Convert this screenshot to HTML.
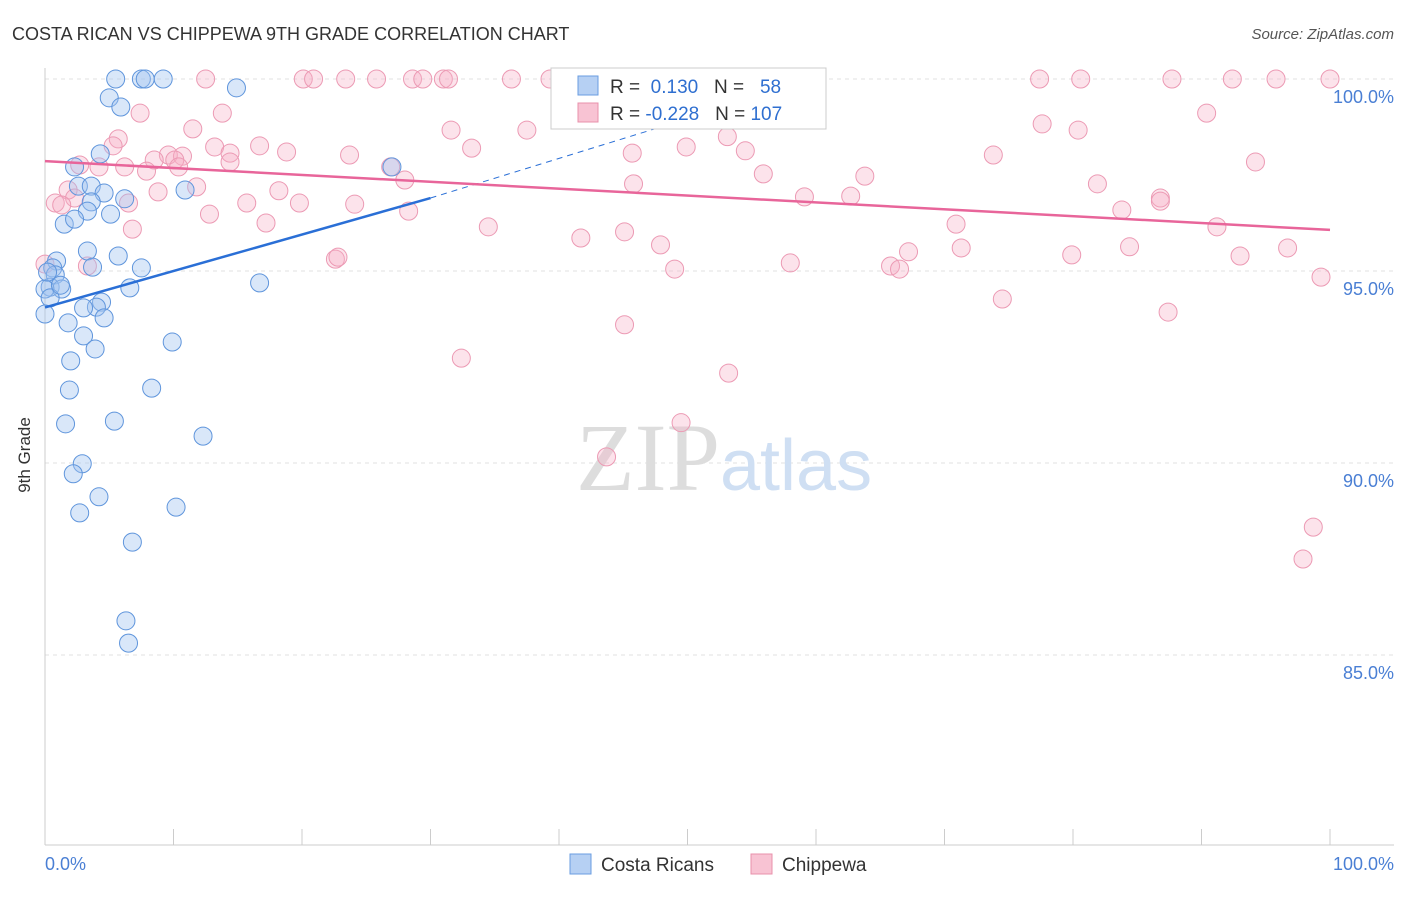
<!DOCTYPE html>
<html><head><meta charset="utf-8"><style>
body{margin:0;background:#fff;font-family:"Liberation Sans",sans-serif}
</style></head><body>
<svg width="1406" height="892" xmlns="http://www.w3.org/2000/svg">
<text x="12" y="40" font-size="18" fill="#333">COSTA RICAN VS CHIPPEWA 9TH GRADE CORRELATION CHART</text>
<text x="1394" y="39" font-size="15" fill="#555" font-style="italic" text-anchor="end">Source: ZipAtlas.com</text>
<g id="grid"></g>
<text x="720" y="490" font-size="96" fill="#ddd" text-anchor="end" font-family="Liberation Serif">ZIP</text>
<text x="720" y="490" font-size="72" fill="#cfdff3">atlas</text>
<g id="pts"></g>
<g id="trend"></g>
<text x="30" y="455" font-size="17" fill="#333" transform="rotate(-90 30 455)" text-anchor="middle">9th Grade</text>
<text x="45" y="870" font-size="18" fill="#4a7fd4">0.0%</text>
<text x="1394" y="870" font-size="18" fill="#4a7fd4" text-anchor="end">100.0%</text>
<g>
<rect x="551" y="68" width="275" height="61" fill="#fff" stroke="#ccc"/>
<rect x="578" y="76" width="20" height="19" fill="#b6d0f3" stroke="#6a9de0"/>
<rect x="578" y="103" width="20" height="19" fill="#f8c3d3" stroke="#e890ab"/>
<text x="610" y="93" font-size="19" fill="#333">R = <tspan fill="#2f6fd0">&#160;0.130</tspan>&#160;&#160;&#160;N = <tspan fill="#2f6fd0">&#160;&#160;58</tspan></text>
<text x="610" y="120" font-size="19" fill="#333">R = <tspan fill="#2f6fd0">-0.228</tspan>&#160;&#160;&#160;N = <tspan fill="#2f6fd0">107</tspan></text>
</g>
<g>
<rect x="570" y="854" width="21" height="20" fill="#b6d0f3" stroke="#6a9de0"/>
<text x="601" y="871" font-size="19" fill="#333">Costa Ricans</text>
<rect x="751" y="854" width="21" height="20" fill="#f8c3d3" stroke="#e890ab"/>
<text x="782" y="871" font-size="19" fill="#333">Chippewa</text>
</g>
</svg>
<script>
const yTicks=[100,95,90,85];
const blueX=[5.5,7.5,7.8,9.2,14.9,5,5.9,4.3,2.3,2.6,3.6,4.6,6.2,3.6,3.3,5.1,1.5,2.3,3.3,5.7,0.9,3.7,7.5,0.6,0.8,16.7,0.4,1.3,0,6.6,0.4,0,4.4,4,3,4.6,1.8,3,9.9,3.9,2,1.9,8.3,1.6,5.4,12.3,2.9,2.2,4.2,10.2,2.7,6.8,6.3,6.5,10.9,27,0.2,1.2];
const blueY=[100,100,100,100,99.77,99.51,99.27,98.05,97.71,97.21,97.21,97.03,96.88,96.8,96.56,96.48,96.22,96.35,95.52,95.39,95.26,95.1,95.08,95.08,94.9,94.69,94.58,94.53,94.53,94.56,94.3,93.88,94.19,94.06,94.04,93.78,93.65,93.31,93.15,92.97,92.66,91.9,91.95,91.02,91.09,90.7,89.98,89.72,89.12,88.85,88.7,87.94,85.89,85.31,97.11,97.71,94.97,94.63];
const pinkX=[12.5,20.1,20.9,23.4,25.8,28.6,29.4,31,31.4,36.3,39.3,77.4,80.6,87.7,92.4,95.8,100,7.4,13.8,90.4,31.6,37.5,77.6,80.4,5.7,5.3,11.5,53.1,33.2,49.9,54.5,45.7,13.2,14.4,16.7,18.8,23.7,73.8,4.2,6.2,9.6,10.7,10.1,8.5,14.4,94.2,2.7,7.9,10.4,26.9,28,55.9,63.8,1.8,2.3,8.8,11.8,18.2,45.8,59.1,62.7,81.9,86.8,0.8,1.3,6.5,15.7,19.8,24.1,28.3,86.8,83.8,12.8,6.8,17.2,34.5,45.1,70.9,91.2,41.7,47.9,67.2,71.3,84.4,79.9,93,96.7,22.6,22.8,49,58,65.8,66.5,3.3,0,99.3,74.5,87.4,45.1,32.4,53.2,49.5,43.7,98.7,97.9];
const pinkY=[100,100,100,100,100,100,100,100,100,100,100,100,100,100,100,100,100,99.11,99.11,99.11,98.67,98.67,98.83,98.67,98.44,98.26,98.7,98.5,98.2,98.23,98.13,98.07,98.23,98.07,98.26,98.1,98.02,98.02,97.71,97.71,98.02,97.99,97.89,97.89,97.84,97.84,97.76,97.6,97.71,97.71,97.37,97.53,97.47,97.11,96.9,97.06,97.19,97.09,97.27,96.93,96.95,97.27,96.9,96.77,96.72,96.77,96.77,96.77,96.74,96.56,96.82,96.59,96.48,96.09,96.25,96.15,96.02,96.22,96.15,95.86,95.68,95.5,95.6,95.63,95.42,95.39,95.6,95.31,95.36,95.05,95.21,95.13,95.05,95.13,95.18,94.84,94.27,93.93,93.6,92.73,92.34,91.05,90.16,88.33,87.5];
const blueTrend=[0.130,[0,94.05],[30,96.9],[61,100.1]];
const pinkTrend=[[0,97.86],[100,96.07]];
const NS='http://www.w3.org/2000/svg';
const X=v=>45+v*12.85, Y=v=>79+(100-v)*38.4;
function mk(t,a,p){const e=document.createElementNS(NS,t);for(const k in a)e.setAttribute(k,a[k]);p.appendChild(e);return e;}
const g=document.getElementById('grid');
yTicks.forEach(t=>{
 const l=mk('line',{x1:45,x2:1394,y1:Y(t),y2:Y(t),stroke:'#e2e2e2','stroke-dasharray':'4,4'},g);
 
 
 const tx=mk('text',{x:1394,y:Y(t)+24,'font-size':18,fill:'#4a7fd4','text-anchor':'end'},g);
 tx.textContent=t.toFixed(1)+'%';
 
 
});
mk('line',{x1:45,x2:45,y1:68,y2:845,stroke:'#ccc'},g);
mk('line',{x1:45,x2:1394,y1:845,y2:845,stroke:'#ccc'},g);
for(let i=0;i<=10;i++){const tk=mk('line',{x1:X(i*10),x2:X(i*10),y1:829,y2:845,stroke:'#ccc'},g);
 
 }
const pg=document.getElementById('pts');
pinkX.forEach((x,i)=>{const c=mk('circle',{cx:X(x),cy:Y(pinkY[i]),r:9,fill:'rgba(245,175,198,0.35)',stroke:'#ec9ab4','stroke-width':1},pg);
 
 });
blueX.forEach((x,i)=>{const c=mk('circle',{cx:X(x),cy:Y(blueY[i]),r:9,fill:'rgba(160,195,240,0.4)',stroke:'#5f95dc','stroke-width':1},pg);
 
 });
const tg=document.getElementById('trend');
const b1=mk('line',{x1:X(blueTrend[1][0]),y1:Y(blueTrend[1][1]),x2:X(blueTrend[2][0]),y2:Y(blueTrend[2][1]),stroke:'#2a6fd6','stroke-width':2.5},tg);


const b2=mk('line',{x1:X(blueTrend[2][0]),y1:Y(blueTrend[2][1]),x2:X(blueTrend[3][0]),y2:Y(blueTrend[3][1]),stroke:'#2a6fd6','stroke-width':1,'stroke-dasharray':'6,5'},tg);


const p1=mk('line',{x1:X(pinkTrend[0][0]),y1:Y(pinkTrend[0][1]),x2:X(pinkTrend[1][0]),y2:Y(pinkTrend[1][1]),stroke:'#e8659a','stroke-width':2.5},tg);


</script>
</body></html>
